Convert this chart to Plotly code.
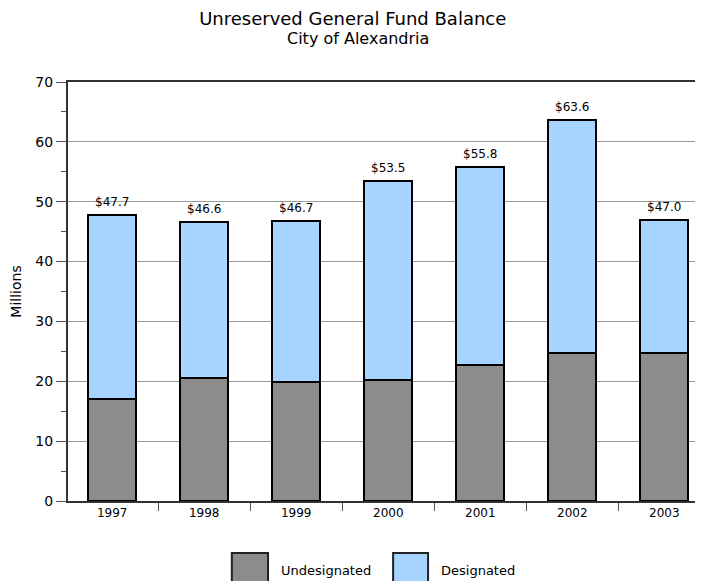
import plotly.graph_objects as go

NEGRO = "#000000"
GRIS_BARRA = "#8c8c8c"
AZUL = "#a6d3ff"
FUENTE = "DejaVu Sans, Verdana, sans-serif"

anios = ["1997", "1998", "1999", "2000", "2001", "2002", "2003"]
no_designado = [17.0, 20.5, 19.8, 20.2, 22.8, 24.8, 24.8]
designado = [30.7, 26.1, 26.9, 33.3, 33.0, 38.8, 22.2]
totales = [47.7, 46.6, 46.7, 53.5, 55.8, 63.6, 47.0]
etiquetas = ["$" + f"{t:.1f}" for t in totales]
series = ["Undesignated", "Designated"]
colores = [GRIS_BARRA, AZUL]

fig = go.Figure()
fig.add_trace(go.Bar(
    x=anios, y=no_designado, name=series[0],
    marker=dict(color=colores[0], line=dict(color=NEGRO, width=2)),
    width=0.52,
))
fig.add_trace(go.Bar(
    x=anios, y=designado, name=series[1],
    marker=dict(color=colores[1], line=dict(color=NEGRO, width=2)),
    width=0.52,
))

# etiquetas de total encima de cada barra (x por índice de categoría)
for i, (t, e) in enumerate(zip(totales, etiquetas)):
    fig.add_annotation(
        x=i, y=t, text=e, showarrow=False, yanchor="middle", yshift=13,
        font=dict(size=12, color=NEGRO, family=FUENTE),
    )

# leyenda dibujada a mano con cuadros grandes como en el original
pos_ley = [(0.258, 0.315), (0.512, 0.567)]
for (x0, x1), nombre, col in zip(pos_ley, series, colores):
    fig.add_shape(
        type="rect", xref="paper", yref="paper",
        x0=x0, x1=x1, y0=-0.205, y1=-0.124,
        fillcolor=col, line=dict(color="#222222", width=2),
    )
    fig.add_annotation(
        xref="paper", yref="paper", x=x1 + 0.017, y=-0.165,
        xanchor="left", yanchor="middle", text=nombre, showarrow=False,
        font=dict(size=13, color=NEGRO, family=FUENTE),
    )

# subtítulo
fig.add_annotation(
    xref="paper", yref="paper", x=0.457, y=1.105,
    xanchor="center", yanchor="middle", text="City of Alexandria", showarrow=False,
    font=dict(size=16, color=NEGRO, family=FUENTE),
)

fig.update_layout(
    width=695, height=573,
    barmode="stack",
    plot_bgcolor="#FFFFFF", paper_bgcolor="#FFFFFF",
    font=dict(family=FUENTE, size=13, color=NEGRO),
    margin=dict(l=60, r=0, t=74, b=80),
    title=dict(
        text="Unreserved General Fund Balance",
        x=0.496, xanchor="center", xref="container",
        y=0.993, yref="container", yanchor="top",
        pad=dict(t=0, b=0),
        font=dict(size=18, color=NEGRO, family=FUENTE),
    ),
    showlegend=False,
)
fig.update_xaxes(
    type="category",
    range=[-0.48, 6.42], automargin=False,
    showline=True, linecolor="#333333", linewidth=2, mirror=True,
    ticks="outside", tickson="boundaries", ticklen=8, tickcolor="#555555",
    tickfont=dict(size=12, color=NEGRO),
    showgrid=False,
)
fig.update_yaxes(
    range=[0, 70], dtick=10, automargin=False,
    title=dict(text="Millions", font=dict(size=14, color=NEGRO), standoff=12),
    showline=True, linecolor="#333333", linewidth=2,
    ticks="outside", ticklen=10, tickcolor="#555555",
    tickfont=dict(size=14, color=NEGRO),
    gridcolor="#999999", gridwidth=1,
    minor=dict(dtick=5, ticks="outside", ticklen=5, tickcolor="#555555", showgrid=False),
    zeroline=False,
)

fig.write_html("out.html")
